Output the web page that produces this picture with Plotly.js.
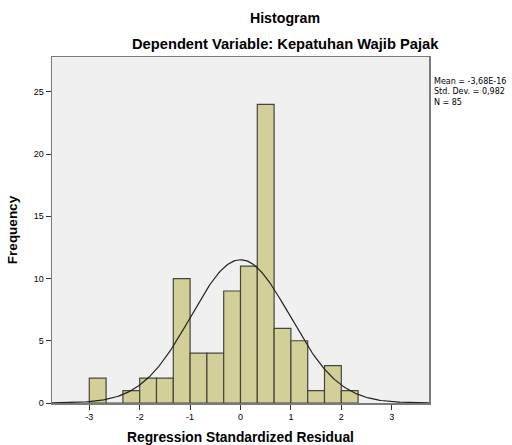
<!DOCTYPE html>
<html>
<head>
<meta charset="utf-8">
<script src="https://cdn.plot.ly/plotly-3.0.1.min.js"></script>
<style>html,body{margin:0;padding:0;background:#fff}#chart{width:512px;height:445px}</style>
</head>
<body>
<div id="chart"></div>
<script>
// Histogram bins (left edges), bin width 1/3
const binLeftEdges = [-3.0, -2.6667, -2.3333, -2.0, -1.6667, -1.3333, -1.0, -0.6667, -0.3333, 0.0, 0.3333, 0.6667, 1.0, 1.3333, 1.6667, 2.0];
const binCounts    = [2, 0, 1, 2, 2, 10, 4, 4, 9, 11, 24, 6, 5, 1, 3, 1];
const binWidth = 1/3;
// Reported statistics (drawn in the legend text)
const statMean = -3.68e-16;
const statSD = 0.982;
const statN = 85;
const statLines = ['Mean = -3,68E-16', 'Std. Dev. = 0,982', 'N = 85'];
const xTicks = [-3, -2, -1, 0, 1, 2, 3];
const yTicks = [0, 5, 10, 15, 20, 25];

const barX = binLeftEdges.map(e => e + binWidth / 2);

// Fitted normal curve defined by the reported mean, SD and N
const curveX = [], curveY = [];
for (let i = 0; i <= 300; i++) {
  const x = -3.74 + i * (7.48 / 300);
  const z = (x - statMean) / statSD;
  curveX.push(x);
  curveY.push(statN * binWidth * Math.exp(-0.5 * z * z) / (statSD * Math.sqrt(2 * Math.PI)));
}

const data = [
  {
    type: 'bar', x: barX, y: binCounts, width: binWidth,
    marker: {color: '#d3cf98', line: {color: '#45453c', width: 1.2}},
    hoverinfo: 'x+y'
  },
  {
    type: 'scatter', mode: 'lines', x: curveX, y: curveY,
    line: {color: '#222222', width: 1.2}, hoverinfo: 'skip'
  }
];

const font = 'Liberation Sans, Arial, sans-serif';

const layout = {
  width: 512, height: 445,
  margin: {l: 52, r: 83, t: 57, b: 42},
  paper_bgcolor: '#ffffff', plot_bgcolor: '#f0f0f0',
  showlegend: false, bargap: 0,
  font: {family: font, color: '#000', size: 9},
  title: {
    text: '<b>Histogram</b>', font: {family: font, size: 14.2, color: '#000'},
    x: 285 / 512, xanchor: 'center', y: 1 - 18 / 445, yanchor: 'middle', yref: 'container'
  },
  xaxis: {
    range: [-3.74, 3.74], tickvals: xTicks, ticktext: xTicks.map(String),
    ticks: 'outside', ticklen: 5, tickcolor: '#333', showgrid: false, zeroline: false,
    showline: true, mirror: true, linecolor: '#7a7a7a', linewidth: 1.5,
    tickfont: {family: font, size: 9, color: '#000'},
    title: {text: '<b>Regression Standardized Residual</b>', font: {family: font, size: 13.8, color: '#000'}, standoff: 12}
  },
  yaxis: {
    range: [0, 27.8], tickvals: yTicks, ticktext: yTicks.map(String),
    ticks: 'outside', ticklen: 5, tickcolor: '#333', showgrid: false, zeroline: false,
    showline: true, mirror: true, linecolor: '#7a7a7a', linewidth: 1.5,
    tickfont: {family: font, size: 9, color: '#000'},
    title: {text: '<b>Frequency</b>', font: {family: font, size: 13.5, color: '#000'}, standoff: 13}
  },
  annotations: [
    {
      text: '<b>Dependent Variable: Kepatuhan Wajib Pajak</b>', xref: 'paper', yref: 'paper',
      x: (285 - 52) / 377, y: (403 - 44) / 346, xanchor: 'center', yanchor: 'middle', showarrow: false,
      font: {family: font, size: 14.7, color: '#000'}
    },
    {
      text: statLines.join('<br>'), xref: 'paper', yref: 'paper',
      x: 1 + 4 / 377, y: (403 - 92) / 346, xanchor: 'left', yanchor: 'middle', align: 'left',
      showarrow: false, borderpad: 0,
      font: {family: 'DejaVu Sans, sans-serif', size: 8, color: '#000'}
    }
  ]
};

Plotly.newPlot('chart', data, layout, {staticPlot: true});
</script>
</body>
</html>
